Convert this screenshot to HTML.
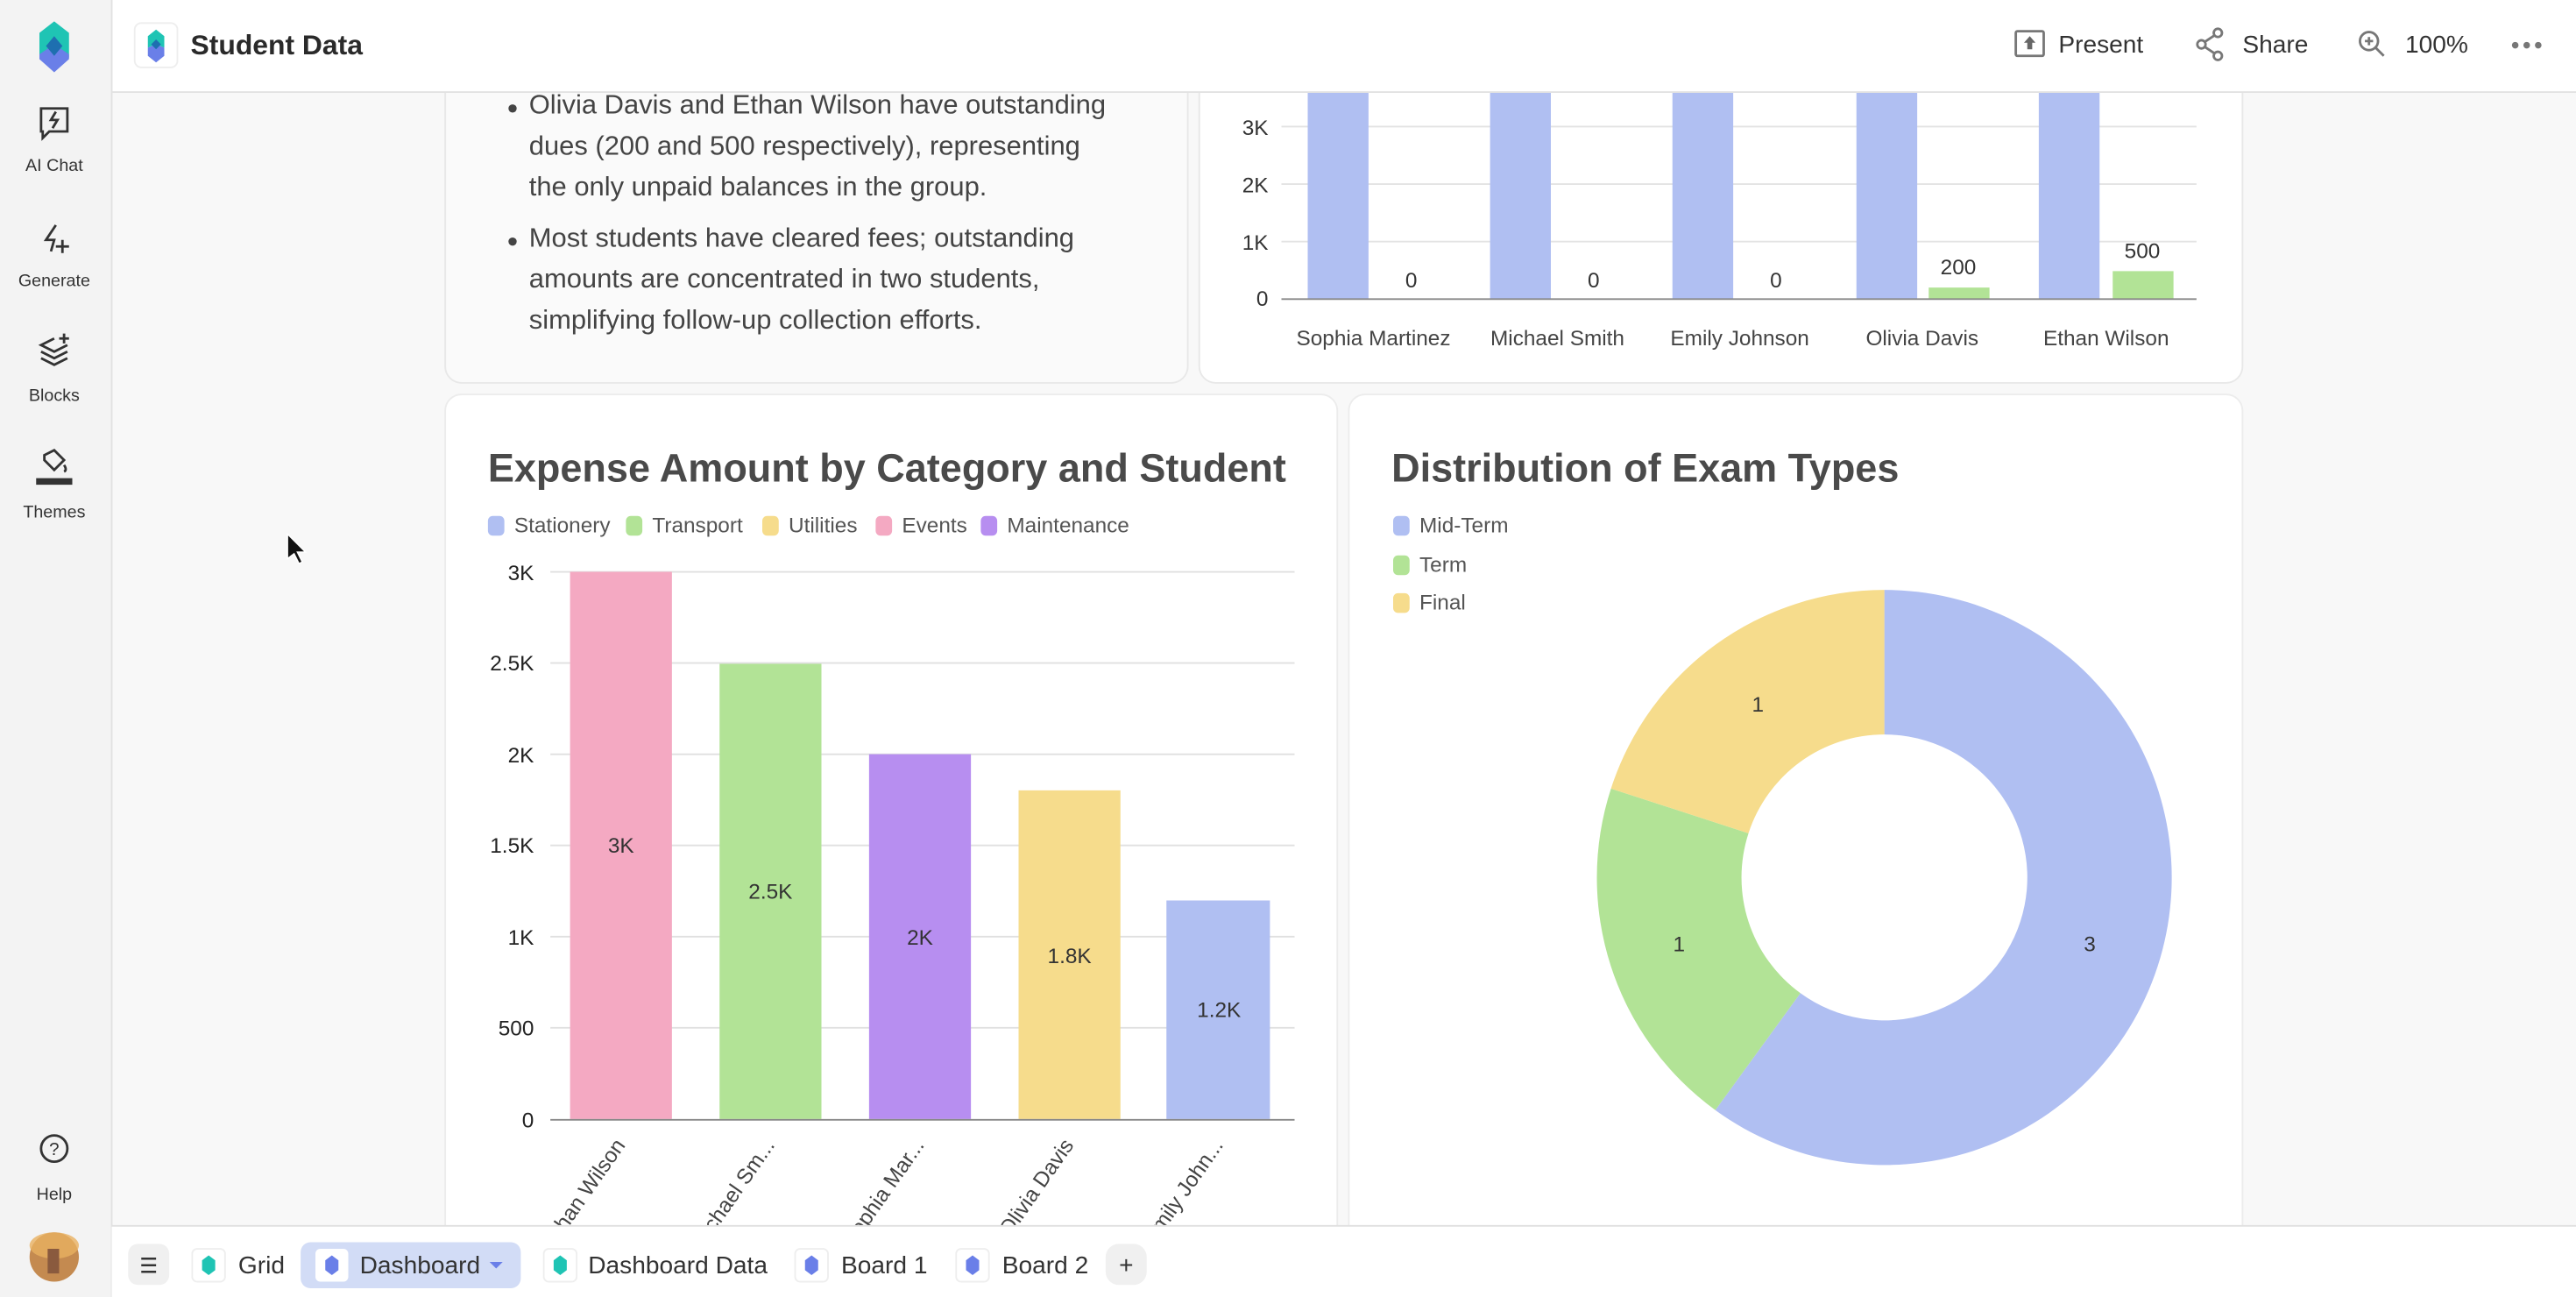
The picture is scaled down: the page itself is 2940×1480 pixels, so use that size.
<!DOCTYPE html>
<html><head><meta charset="utf-8"><style>
html,body{margin:0;padding:0;width:2940px;height:1480px;overflow:hidden;background:#f8f8f8}
svg{display:block;font-family:"Liberation Sans",sans-serif}
</style></head><body>
<svg width="2940" height="1480" viewBox="0 0 1568 789.33" preserveAspectRatio="none" xmlns="http://www.w3.org/2000/svg">
<rect width="1568" height="790" fill="#f8f8f8"/>
<!-- cards -->
<rect x="271" y="30" width="452" height="203" rx="10" fill="#fafafa" stroke="#e8e8e8"/>
<rect x="730" y="30" width="635" height="203" rx="10" fill="#ffffff" stroke="#e8e8e8"/>
<rect x="271" y="240" width="543" height="520" rx="10" fill="#ffffff" stroke="#ececec"/>
<rect x="821" y="240" width="544" height="520" rx="10" fill="#ffffff" stroke="#ececec"/>
<!-- text card -->
<g fill="#444" font-size="16.5">
<circle cx="312" cy="66" r="2.5"/><circle cx="312" cy="147" r="2.5"/>
<text x="322" y="69">Olivia Davis and Ethan Wilson have outstanding</text>
<text x="322" y="94">dues (200 and 500 respectively), representing</text>
<text x="322" y="119">the only unpaid balances in the group.</text>
<text x="322" y="150">Most students have cleared fees; outstanding</text>
<text x="322" y="175">amounts are concentrated in two students,</text>
<text x="322" y="200">simplifying follow-up collection efforts.</text>
</g>
<!-- top right chart -->
<g stroke="#e3e3e3"><line x1="780" y1="77" x2="1337" y2="77"/><line x1="780" y1="112" x2="1337" y2="112"/><line x1="780" y1="147" x2="1337" y2="147"/></g>
<g fill="#b0bff2"><rect x="796" y="50" width="37" height="132"/><rect x="907" y="50" width="37" height="132"/><rect x="1018" y="50" width="37" height="132"/><rect x="1130" y="50" width="37" height="132"/><rect x="1241" y="50" width="37" height="132"/></g>
<g fill="#b2e396"><rect x="1174" y="175" width="37" height="7"/><rect x="1286" y="165" width="37" height="17"/></g>
<line x1="780" y1="182" x2="1337" y2="182" stroke="#888"/>
<g font-size="13" fill="#333" text-anchor="end"><text x="772" y="82">3K</text><text x="772" y="117">2K</text><text x="772" y="152">1K</text><text x="772" y="186">0</text></g>
<g font-size="13" fill="#333" text-anchor="middle"><text x="859" y="175">0</text><text x="970" y="175">0</text><text x="1081" y="175">0</text><text x="1192" y="167">200</text><text x="1304" y="157">500</text>
<text x="836" y="210" fill="#444">Sophia Martinez</text><text x="948" y="210" fill="#444">Michael Smith</text><text x="1059" y="210" fill="#444">Emily Johnson</text><text x="1170" y="210" fill="#444">Olivia Davis</text><text x="1282" y="210" fill="#444">Ethan Wilson</text></g>
<!-- bar chart -->
<text x="297" y="293" font-size="24" font-weight="bold" fill="#4a4a4a">Expense Amount by Category and Student</text>
<g font-size="13" fill="#555">
<rect x="297" y="314" width="10" height="12" rx="3" fill="#b0bff2"/><text x="313" y="324">Stationery</text>
<rect x="381" y="314" width="10" height="12" rx="3" fill="#b2e396"/><text x="397" y="324">Transport</text>
<rect x="464" y="314" width="10" height="12" rx="3" fill="#f6dc8c"/><text x="480" y="324">Utilities</text>
<rect x="533" y="314" width="10" height="12" rx="3" fill="#f4a9c2"/><text x="549" y="324">Events</text>
<rect x="597" y="314" width="10" height="12" rx="3" fill="#b78ef0"/><text x="613" y="324">Maintenance</text>
</g>
<g stroke="#e0e0e0"><line x1="335" y1="348" x2="788" y2="348"/><line x1="335" y1="403.5" x2="788" y2="403.5"/><line x1="335" y1="459" x2="788" y2="459"/><line x1="335" y1="514.5" x2="788" y2="514.5"/><line x1="335" y1="570" x2="788" y2="570"/><line x1="335" y1="625.5" x2="788" y2="625.5"/></g>
<rect x="347" y="348" width="62" height="333" fill="#f4a9c2"/>
<rect x="438" y="404" width="62" height="277" fill="#b2e396"/>
<rect x="529" y="459" width="62" height="222" fill="#b78ef0"/>
<rect x="620" y="481" width="62" height="200" fill="#f6dc8c"/>
<rect x="710" y="548" width="63" height="133" fill="#b0bff2"/>
<line x1="335" y1="681.5" x2="788" y2="681.5" stroke="#888"/>
<g font-size="13" fill="#222" text-anchor="end"><text x="325" y="353">3K</text><text x="325" y="408">2.5K</text><text x="325" y="464">2K</text><text x="325" y="519">1.5K</text><text x="325" y="575">1K</text><text x="325" y="630">500</text><text x="325" y="686">0</text></g>
<g font-size="13" fill="#333" text-anchor="middle"><text x="378" y="519">3K</text><text x="469" y="547">2.5K</text><text x="560" y="575">2K</text><text x="651" y="586">1.8K</text><text x="742" y="619">1.2K</text></g>
<g font-size="13" fill="#444" text-anchor="end">
<text transform="translate(381,697) rotate(-55)">Ethan Wilson</text>
<text transform="translate(472,697) rotate(-55)">Michael Sm...</text>
<text transform="translate(563,697) rotate(-55)">Sophia Mar...</text>
<text transform="translate(654,697) rotate(-55)">Olivia Davis</text>
<text transform="translate(745,697) rotate(-55)">Emily John...</text>
</g>
<!-- donut -->
<text x="847" y="293" font-size="24" font-weight="bold" fill="#4a4a4a">Distribution of Exam Types</text>
<g font-size="13" fill="#555">
<rect x="848" y="314" width="10" height="12" rx="3" fill="#b0bff2"/><text x="864" y="324">Mid-Term</text>
<rect x="848" y="338" width="10" height="12" rx="3" fill="#b2e396"/><text x="864" y="348">Term</text>
<rect x="848" y="361" width="10" height="12" rx="3" fill="#f6dc8c"/><text x="864" y="371">Final</text>
</g>
<path d="M1147 359 A175 175 0 1 1 1044.1 675.6 L1095.9 604.4 A87 87 0 1 0 1147 447 Z" fill="#b0bff2"/>
<path d="M1044.1 675.6 A175 175 0 0 1 980.6 479.9 L1064.3 507.1 A87 87 0 0 0 1095.9 604.4 Z" fill="#b2e396"/>
<path d="M980.6 479.9 A175 175 0 0 1 1147 359 L1147 447 A87 87 0 0 0 1064.3 507.1 Z" fill="#f6dc8c"/>
<g font-size="13" fill="#333" text-anchor="middle"><text x="1272" y="579">3</text><text x="1022" y="579">1</text><text x="1070" y="433">1</text></g>
<!-- top bar -->
<rect x="68" y="0" width="1500" height="56" fill="#fff"/>
<line x1="68" y1="56" x2="1568" y2="56" stroke="#e2e2e2"/>
<rect x="82" y="14" width="26" height="27" rx="4" fill="#fff" stroke="#eee"/>
<path d="M95 18 L100 22 L100 29 L95 27 L90 29 L90 22 Z" fill="#1fc4b4"/><path d="M90 29 L95 27 L100 29 L100 34 L95 38 L90 34 Z" fill="#6a7fe8"/><path d="M95 24 L98 27 L95 30 L92 27Z" fill="#1e6fb0"/>
<text x="116" y="33" font-size="17" font-weight="bold" fill="#2a2a2a">Student Data</text>
<g fill="#333" font-size="15">
<rect x="1227" y="19" width="17" height="15" rx="1" fill="none" stroke="#777" stroke-width="1.5"/><path d="M1235.5 22 L1239 26 L1237 26 L1237 30 L1234 30 L1234 26 L1232 26Z" fill="#666"/>
<text x="1253" y="32">Present</text>
<g stroke="#777" stroke-width="1.5" fill="none"><circle cx="1350" cy="20" r="2.5"/><circle cx="1340" cy="27" r="2.5"/><circle cx="1350" cy="34" r="2.5"/><path d="M1348 21.5 L1342 25.5 M1342 28.5 L1348 32.5"/></g>
<text x="1365" y="32">Share</text>
<g stroke="#777" stroke-width="1.5" fill="none"><circle cx="1442" cy="25" r="5.5"/><path d="M1446 29 L1451 34 M1442 22.5 V27.5 M1439.5 25 H1444.5"/></g>
<text x="1464" y="32">100%</text>
<g fill="#777"><circle cx="1531" cy="27.5" r="2"/><circle cx="1538" cy="27.5" r="2"/><circle cx="1545" cy="27.5" r="2"/></g>
</g>
<!-- sidebar -->
<rect x="0" y="0" width="68" height="790" fill="#f3f3f3"/>
<line x1="68" y1="0" x2="68" y2="790" stroke="#e2e2e2"/>
<path d="M33 13 L42 20 L42 35 L33 43 L24 35 L24 20 Z" fill="#1fc4b4"/><path d="M24 33 L33 27 L42 33 L42 36 L33 44 L24 36Z" fill="#6a7fe8"/><path d="M33 22 L38 28 L33 34 L28 28Z" fill="#1e6fb0"/>
<g fill="none" stroke="#333" stroke-width="1.5">
<path d="M25 66 h16 v14 h-11 l-4 4 v-4 h-1 z"/><path d="M34 68 l-3 5 h4 l-3 5"/>
<path d="M34 137 l-6 9 h5 l-2 7 M38 146 v8 M34 150 h8"/>
<path d="M33 206 l-8 4 8 4 8-4 M25 214 l8 4 8-4 M25 218 l8 4 8-4 M39 203 v6 M36 206 h6"/>
<path d="M27 277 l6-3 6 6 -6 6 -6-6z M39 283 q2 3 0 4"/>
<circle cx="33" cy="699" r="8"/>
</g>
<rect x="22" y="291" width="22" height="4" fill="#333"/>
<text x="33" y="703" font-size="11" text-anchor="middle" fill="#333">?</text>
<g font-size="10.5" fill="#333" text-anchor="middle"><text x="33" y="104">AI Chat</text><text x="33" y="174">Generate</text><text x="33" y="244">Blocks</text><text x="33" y="315">Themes</text><text x="33" y="730">Help</text></g>
<ellipse cx="33" cy="765" rx="15" ry="15" fill="#c48a50"/><ellipse cx="33" cy="758" rx="15" ry="8" fill="#e8b060" opacity=".8"/><rect x="29" y="760" width="7" height="15" fill="#8a5a3e"/>
<!-- cursor -->
<path d="M175 325 L175 340 L179 337 L182 343 L184 342 L181 336 L186 336 Z" fill="#111" stroke="#fff" stroke-width=".8"/>
<!-- bottom bar -->
<rect x="68" y="746" width="1500" height="44" fill="#fff"/>
<line x1="68" y1="746" x2="1568" y2="746" stroke="#e0e0e0"/>
<rect x="78" y="757" width="25" height="25" rx="6" fill="#f0f0f0"/>
<g stroke="#333" stroke-width="1.3"><line x1="86" y1="766" x2="95" y2="766"/><line x1="86" y1="770" x2="95" y2="770"/><line x1="86" y1="774" x2="95" y2="774"/></g>
<rect x="183" y="756" width="134" height="28" rx="6" fill="#d2dcf6"/>
<g font-size="15" fill="#333">
<rect x="117" y="760" width="20" height="20" rx="3" fill="#fff" stroke="#eee"/><path d="M127 764 L131 767 L131 773 L127 776 L123 773 L123 767Z" fill="#1fc4b4"/><text x="145" y="775">Grid</text>
<rect x="192" y="760" width="20" height="20" rx="3" fill="#fff"/><path d="M202 764 L206 767 L206 773 L202 776 L198 773 L198 767Z" fill="#6a7fe8"/><text x="219" y="775">Dashboard</text><path d="M298 768 h8 l-4 4z" fill="#6a7fe8"/>
<rect x="331" y="760" width="20" height="20" rx="3" fill="#fff" stroke="#eee"/><path d="M341 764 L345 767 L345 773 L341 776 L337 773 L337 767Z" fill="#1fc4b4"/><text x="358" y="775">Dashboard Data</text>
<rect x="484" y="760" width="20" height="20" rx="3" fill="#fff" stroke="#eee"/><path d="M494 764 L498 767 L498 773 L494 776 L490 773 L490 767Z" fill="#6a7fe8"/><text x="512" y="775">Board 1</text>
<rect x="582" y="760" width="20" height="20" rx="3" fill="#fff" stroke="#eee"/><path d="M592 764 L596 767 L596 773 L592 776 L588 773 L588 767Z" fill="#6a7fe8"/><text x="610" y="775">Board 2</text>
<rect x="673" y="757" width="25" height="25" rx="8" fill="#f0f0f0"/><text x="685.5" y="775" text-anchor="middle">+</text>
</g>
</svg>
</body></html>
